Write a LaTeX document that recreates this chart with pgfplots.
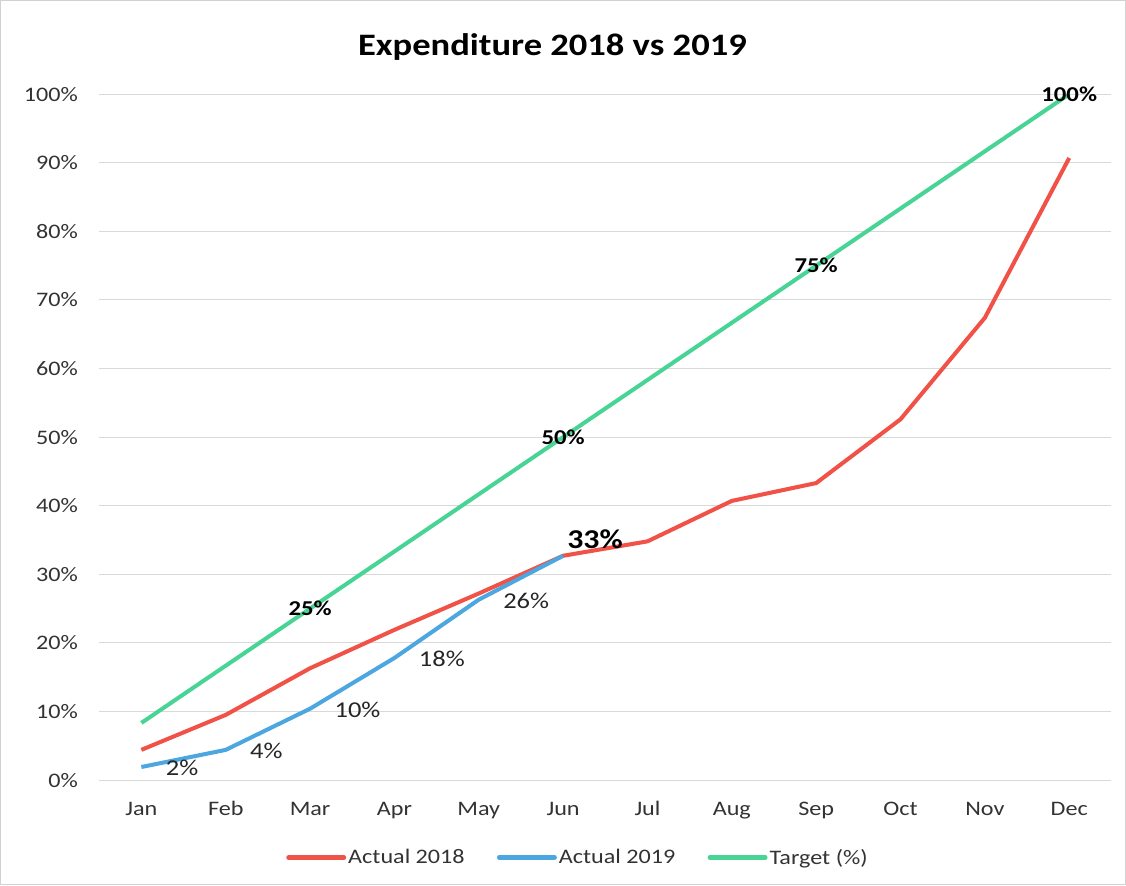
\documentclass[border=0pt]{standalone}
\usepackage{pgfplots}
\pgfplotsset{compat=1.18}
\usepackage{fontspec}
\setmainfont{Carlito}[FakeStretch=1.17]
\definecolor{act18}{RGB}{240,82,72}
\definecolor{act19}{RGB}{76,166,224}
\definecolor{target}{RGB}{72,212,148}
\definecolor{gridgray}{RGB}{217,217,217}

\begin{document}
\begin{tikzpicture}
\begin{axis}[
  scale only axis,
  width=1005pt, height=681pt,
  xmin=-0.5, xmax=11.5, ymin=0, ymax=100,
  xtick={0,...,11},
  xticklabels={Jan,Feb,Mar,Apr,May,Jun,Jul,Aug,Sep,Oct,Nov,Dec},
  ytick={0,10,...,100},
  yticklabel={\pgfmathprintnumber{\tick}\%},
  /pgf/number format/assume math mode=true,
  axis line style={draw=none},
  major tick length=0pt,
  ymajorgrids, grid style={gridgray, line width=1pt},
  tick label style={font=\fontsize{20.5}{22}\selectfont, text=black!80},
  yticklabel style={anchor=east, inner sep=0pt, xshift=-21pt},
  xticklabel style={anchor=base, inner sep=0pt, yshift=-35pt},
  legend style={at={(0.473,-0.113)}, anchor=center, draw=none, fill=none,
    legend columns=3, font=\fontsize{20.5}{22}\selectfont, text=black!80,
    /tikz/every even column/.append style={column sep=30pt}},
  legend image code/.code={\draw[#1, line width=4.5pt, line cap=round] (0pt,0pt) -- (55pt,0pt);},
  point meta=explicit symbolic,
]
\addplot[act18, line width=4pt] coordinates {
  (0,4.4) (1,9.5) (2,16.3) (3,21.9) (4,27.2) (5,32.7)
  (6,34.8) (7,40.7) (8,43.3) (9,52.6) (10,67.4) (11,90.7)
};
\addlegendentry{Actual 2018}
\addplot[act19, line width=4pt, nodes near coords,
  every node near coord/.style={anchor=west, xshift=19pt, yshift=-1pt,
    font=\fontsize{22.5}{24}\selectfont, text=black!85}] coordinates {
  (0,1.9) [2\%] (1,4.4) [4\%] (2,10.4) [10\%] (3,17.8) [18\%]
  (4,26.3) [26\%] (5,32.7) [{}]
};
\addlegendentry{Actual 2019}
\addplot[target, line width=4pt, nodes near coords,
  every node near coord/.style={anchor=center,
    font=\bfseries\fontsize{21}{23}\selectfont, text=black}] coordinates {
  (0,8.33) [{}] (1,16.67) [{}] (2,25) [25\%] (3,33.33) [{}]
  (4,41.67) [{}] (5,50) [50\%] (6,58.33) [{}] (7,66.67) [{}]
  (8,75) [75\%] (9,83.33) [{}] (10,91.67) [{}] (11,100) [100\%]
};
\addlegendentry{Target (\%)}
\node[anchor=south west, inner sep=0pt, xshift=4pt, yshift=7pt,
  font=\bfseries\fontsize{27}{29}\selectfont, text=black] at (axis cs:5,32.7) {33\%};
\end{axis}
\node[font=\bfseries\fontsize{31}{33}\selectfont, text=black] at (450pt,728pt) {Expenditure 2018 vs 2019};
\draw[gray!35, line width=1pt] (-98pt,-104pt) rectangle (1019pt,774pt);
\end{tikzpicture}
\end{document}
